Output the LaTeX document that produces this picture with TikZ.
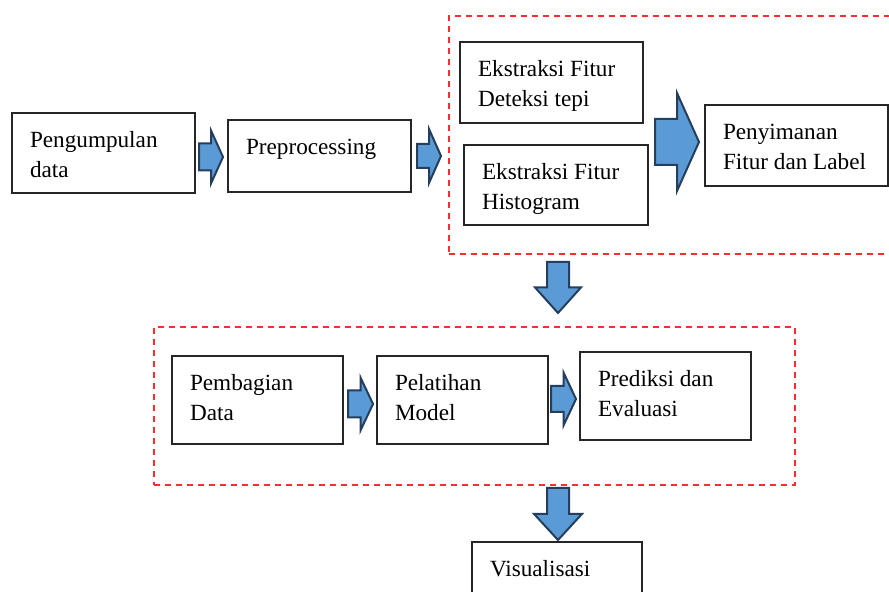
\documentclass[tikz,border=0pt]{standalone}
\usepackage{fontspec}
\setmainfont{Liberation Serif}
\usepackage{xcolor}
\usepackage{tikz}
\usetikzlibrary{calc}
\definecolor{arrowblue}{RGB}{91,155,213}
\definecolor{arrowedge}{RGB}{37,62,94}
\definecolor{groupred}{RGB}{255,45,45}

\tikzset{
  stepbox/.style={draw=black!85,line width=1pt,fill=white,rectangle,
    anchor=north west,align=flush left,text width=73.5pt,inner xsep=9pt,inner ysep=0pt,
    text height=17.5pt,text depth=#1,font=\fontsize{11.6}{14.8}\selectfont},
  stepbox/.default=22.5pt,
  rowbox/.style={stepbox=26.5pt,text width=67.5pt},
  groupbox/.style={draw=groupred,line width=0.9pt,dash pattern=on 3pt off 2.5pt,
    rectangle,anchor=north west,inner sep=0pt},
  blockarrow/.style={fill=arrowblue,draw=arrowedge,line width=1pt,line join=miter}
}

% horizontal block arrow: tail, tip, shaft half, head half
\newcommand{\hblock}[4]{%
  \draw[blockarrow] let \p1=#1, \p2=#2, \n1={(\x1+\x2)/2} in
    (\x1,\y2+#3) -- (\n1,\y2+#3) -- (\n1,\y2+#4) -- (\x2,\y2)
    -- (\n1,\y2-#4) -- (\n1,\y2-#3) -- (\x1,\y2-#3) -- cycle;}
% vertical block arrow: tail, tip, shaft half, head half
\newcommand{\vblock}[4]{%
  \draw[blockarrow] let \p1=#1, \p2=#2, \n1={(\y1+\y2)/2} in
    (\x2+#3,\y1) -- (\x2+#3,\n1) -- (\x2+#4,\n1) -- (\x2,\y2)
    -- (\x2-#4,\n1) -- (\x2-#3,\n1) -- (\x2-#3,\y1) -- cycle;}

\begin{document}
\begin{tikzpicture}[x=0.5pt,y=-0.5pt]
    \useasboundingbox (0,0) rectangle (889,592);
    \fill[white] (0,0) rectangle (889,592);

    % Groups
    \node[groupbox,minimum width=235pt,minimum height=119pt] (featgrp) at (448,15) {};
    \node[groupbox,minimum width=320.5pt,minimum height=79pt] (modelgrp) at (153,326) {};

    % Top row
    \node[stepbox] (peng) at (11,112) {Pengumpulan\\data};
    \node[stepbox=18.5pt] (prep) at (227,119) {Preprocessing};
    \node[stepbox=23pt] (deteksi) at (459,41) {Ekstraksi Fitur\\Deteksi tepi};
    \node[stepbox,text width=74pt] (histo) at (463,144) {Ekstraksi Fitur\\Histogram};
    \node[stepbox=23pt] (simpan) at (704,104) {Penyimanan\\Fitur dan Label};

    % Bottom row
    \node[rowbox] (bagi) at (171,355) {Pembagian\\Data};
    \node[rowbox] (latih) at (376,355) {Pelatihan\\Model};
    \node[rowbox] (prediksi) at (579,351) {Prediksi dan\\Evaluasi};
    \node[rowbox,stepbox=22.5pt,text width=67pt] (visual) at (471,541) {Visualisasi};

    % Block arrows
    \hblock{($(peng.east |- prep.west)+(3,1)$)}{($(prep.west)+(-4,1)$)}{6.75pt}{13.25pt}
    \hblock{($(prep.east)+(5,0)$)}{($(prep.east -| featgrp.west)+(-7,0)$)}{6pt}{13.5pt}
    \hblock{($(histo.east |- simpan.west)+(6,-3.5)$)}{($(simpan.west)+(-5,-3.5)$)}{11.5pt}{24.5pt}
    \vblock{($(featgrp.south west)+(110,7)$)}{($(modelgrp.north west)+(405,-13)$)}{5.5pt}{11.5pt}
    \hblock{($(bagi.east)+(4,4)$)}{($(latih.west)+(-3,4)$)}{6.75pt}{13.25pt}
    \hblock{($(latih.east |- prediksi.west)+(2,3)$)}{($(prediksi.west)+(-3,3)$)}{6.5pt}{13.25pt}
    \vblock{($(visual.north |- modelgrp.south)+(1,2)$)}{($(visual.north)+(1,-1)$)}{5.5pt}{12pt}
\end{tikzpicture}
\end{document}
